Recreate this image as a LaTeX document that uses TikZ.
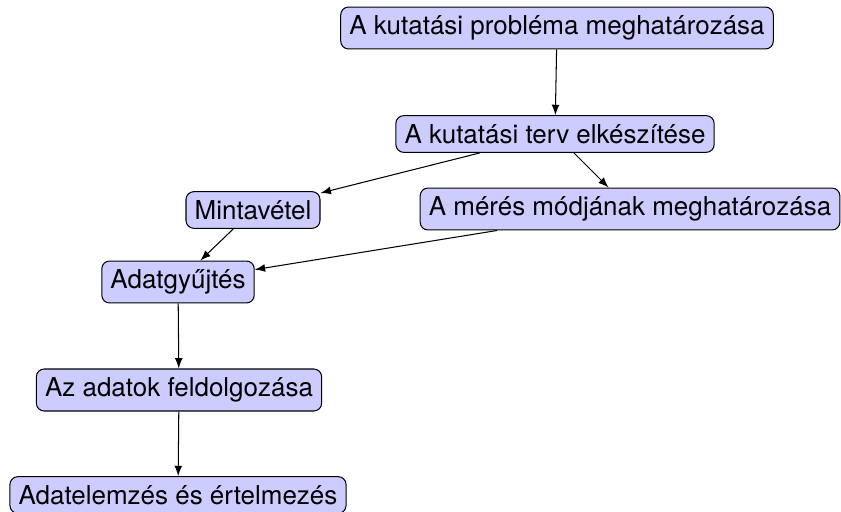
\documentclass[tikz,border=0pt]{standalone}
\usepackage{fontspec}
\setmainfont{TeX Gyre Heros}
\usetikzlibrary{arrows,positioning}

\begin{document}
\begin{tikzpicture}[
  x=0.385pt,y=-0.385pt,
  step box/.style={rectangle,rounded corners=3pt,draw,fill=blue!20},
  every edge/.style={draw,-latex},
]
\useasboundingbox (0,0) rectangle (841,512);

\node [step box] (problema) at (557,28) {A kutatási probléma meghatározása};
\node [step box] (terv) at (555,134) {A kutatási terv elkészítése};
\node [step box] (minta) at (253,210) {Mintavétel};
\node [step box] (meres) at (630,209) {A mérés módjának meghatározása};
\node [step box] (gyujtes) at (178,282) {Adatgyűjtés};
\node [step box] (feldolg) at (179,390) {Az adatok feldolgozása};
\node [step box] (elemzes) at (178,495) {Adatelemzés és értelmezés};

\path (problema) edge (terv)
      (terv) edge (minta)
      (terv) edge (meres)
      (minta) edge (gyujtes)
      (meres) edge (gyujtes)
      (gyujtes) edge (feldolg)
      (feldolg) edge (elemzes);
\end{tikzpicture}
\end{document}
